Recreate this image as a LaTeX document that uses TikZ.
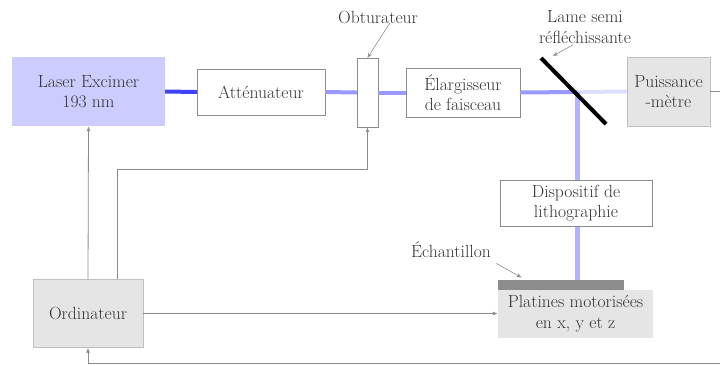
\documentclass[tikz,border=0pt]{standalone}
\usepackage{xcolor}
\usepackage{tikz}
\usetikzlibrary{arrows.meta,positioning,calc}

\begin{document}
\begin{tikzpicture}[x=1pt, y=-1pt,
  every node/.style={font=\fontsize{17.6}{20.5}\selectfont, text=black!80},
  bloc/.style={draw=black!45, fill=white, align=center, inner sep=0pt},
  grisbloc/.style={fill=black!10, align=center, inner sep=0pt},
  faisceau/.style={line width=4pt, draw=blue!40},
  link/.style={-{Latex[length=5pt,width=4pt]}, draw=black!45, line width=0.8pt},
  pointer/.style={-{Stealth[length=5pt,width=4pt]}, draw=black!45, line width=0.6pt}
]
\useasboundingbox (0,0) rectangle (720,365);
\clip (0,0) rectangle (720,365);

\node[fill=blue!20, align=center, inner sep=0pt, minimum width=153pt, minimum height=69pt]
  (laser) at (88.5,91.5) {Laser Excimer\\193 nm};
\node[bloc, minimum width=128pt, minimum height=46pt] (att) at (261,92) {Atténuateur};
\node[bloc, minimum width=21pt, minimum height=69pt] (obt) at (367.5,92.5) {};
\node[bloc, minimum width=114pt, minimum height=49pt] (elarg) at (463,92.5) {Élargisseur\\de faisceau};
\node[grisbloc, draw=black!25, minimum width=83pt, minimum height=69pt] (puis) at (668.5,91.5) {Puissance\\-mètre};
\coordinate (lame) at (577,92);

% faisceau laser
\draw[faisceau, draw=blue!75] (laser.east) -- (att.west);
\draw[faisceau] (att.east) -- (obt.west);
\draw[faisceau] (obt.east) -- (elarg.west);
\draw[faisceau] (elarg.east) -- (lame);
\draw[faisceau, draw=blue!13] (lame) -- (puis.west);

\node[fill=black!45, minimum width=126pt, minimum height=10pt, inner sep=0pt] (ech) at (561,285) {};
\draw[faisceau, line width=5pt, draw=blue!30] (lame) -- (lame |- ech.north);
\node[bloc, minimum width=152pt, minimum height=46pt] (litho) at (576,203) {Dispositif de\\lithographie};
\node[grisbloc, minimum width=155pt, minimum height=48pt] (plat) at (575.5,313.5) {Platines motorisées\\en x, y et z};
\node[grisbloc, draw=black!25, minimum width=110pt, minimum height=68pt] (ordi) at (88,313.5) {Ordinateur};

% lame semi reflechissante
\draw[line width=4pt, black] ($(lame)+(-36,-34)$) -- ($(lame)+(29,32)$);

% etiquettes
\node (obtlbl) at (378,17) {Obturateur};
\node[align=center] (lamelbl) at (585,27) {Lame semi\\réfléchissante};
\node (echlbl) at (451,250) {Échantillon};
\draw[pointer] ([xshift=12pt,yshift=4pt]obtlbl.south) -- (obt.north);
\draw[pointer] ([xshift=-12pt,yshift=2pt]lamelbl.south) -- ++(-20,11);
\draw[pointer] ([xshift=2pt,yshift=-2pt]echlbl.south east) -- ++(25,14);

% commandes
\draw[link] (ordi.north) -- (laser.south);
\draw[link] ([xshift=29pt]ordi.north) -- ++(0,-110) -| (obt.south);
\draw[link] (ordi.east) -- (plat.west);
\coordinate (retour) at (735,363);
\draw[link] (puis.east) -| (retour) -| (ordi.south);
\end{tikzpicture}
\end{document}
